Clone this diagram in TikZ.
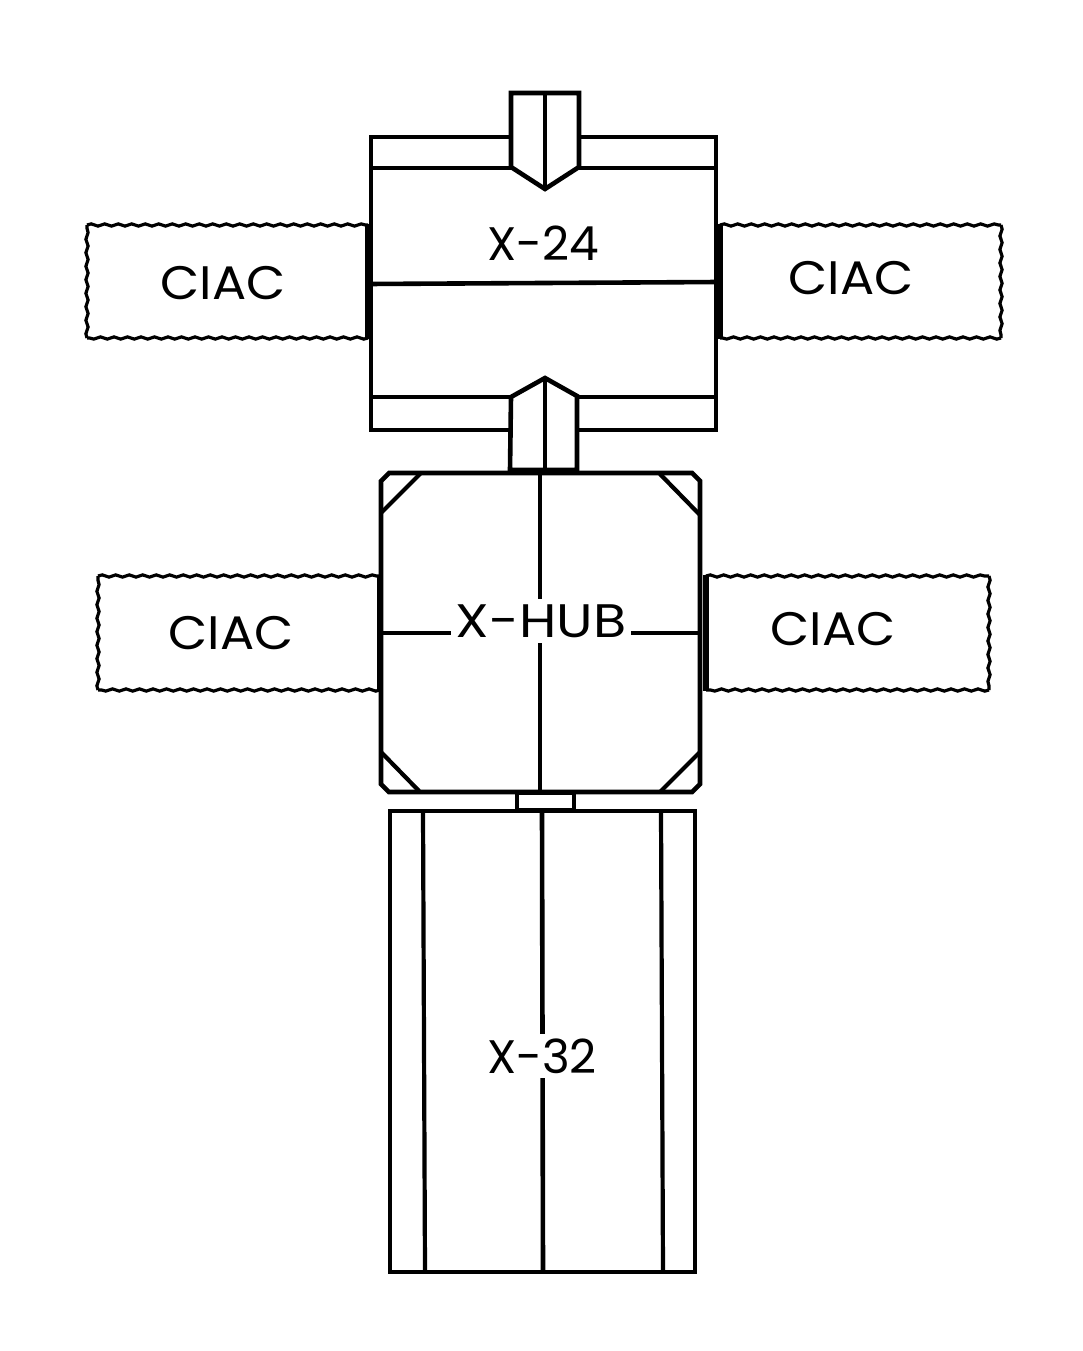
\documentclass[tikz,border=0pt]{standalone}
\usepackage{fontspec}
\setmainfont{Poppins}
\newfontfamily\panelfont[FakeStretch=1.08]{Poppins}
\newfontfamily\hubfont[FakeStretch=1.15]{Poppins}
\usetikzlibrary{decorations.pathmorphing}

\tikzset{
    moduleLine/.style={line width=4.6pt, line join=miter},
    thinLine/.style={line width=4.2pt},
    panelEdge/.style={line width=3.2pt, decorate, decoration={snake, segment length=13.5pt, amplitude=1.1pt}},
    panelBar/.style={line width=5.5pt},
    moduleText/.style={fill=white, inner sep=5pt, font=\fontsize{47}{50}\selectfont},
    panelText/.style={font=\panelfont\fontsize{47}{50}\selectfont}
}

\begin{document}
\begin{tikzpicture}[x=1pt, y=-1pt]
    \useasboundingbox (0,0) rectangle (1083,1351);

    % draw the upper module
    \draw[moduleLine] (371,137) rectangle (716,430);
    \draw[moduleLine] (371,168) -- (716,168);
    \draw[moduleLine] (371,397) -- (716,397);
    \draw[moduleLine] (368,284) -- (719,282);

    % upper docking port
    \filldraw[moduleLine, fill=white] (511,93) -- (579,93) -- (579,167) -- (545,189) -- (511,167) -- cycle;
    \draw[thinLine] (545,93) -- (545,189);

    % lower docking port
    \filldraw[moduleLine, fill=white] (510,470) -- (511,397) -- (545,378) -- (577,396) -- (577,470) -- cycle;
    \draw[moduleLine] (545,378) -- (545,470);

    % draw the hub
    \draw[moduleLine] (389,473) -- (692,473) -- (700,481) -- (700,784) -- (692,792) -- (389,792) -- (381,784) -- (381,481) -- cycle;
    \draw[thinLine] (381,513) -- (421,473);
    \draw[thinLine] (659,473) -- (700,515);
    \draw[thinLine] (381,752) -- (420,792);
    \draw[thinLine] (660,792) -- (700,752);
    \draw[moduleLine] (510,472) -- (577,472);
    \draw[thinLine] (540,473) -- (540,792);
    \draw[thinLine] (379,633) -- (702,633);

    % small adapter
    \draw[thinLine] (517,793) rectangle (574,810);

    % draw the lower module
    \draw[moduleLine] (390,811) rectangle (695,1272);
    \draw[thinLine] (423,811) -- (425,1272);
    \draw[thinLine] (661,811) -- (663,1272);
    \draw[moduleLine] (542,811) -- (543,1272);

    % wavy panels
    \foreach \xa/\ya/\xb/\yb in {87/225/368/338, 720/225/1001/338, 98/576/380/690, 706/576/989/690} {
        \draw[panelEdge] (\xa,\ya) -- (\xb,\ya);
        \draw[panelEdge] (\xb,\yb) -- (\xa,\yb);
        \draw[panelEdge] (\xa,\yb) -- (\xa,\ya);
        \draw[panelEdge] (\xb,\ya) -- (\xb,\yb);
    }

    % panel mounts
    \draw[panelBar] (368,224) -- (368,339);
    \draw[panelBar] (720,224) -- (720,339);
    \draw[panelBar] (380,575) -- (380,691);
    \draw[panelBar] (706,575) -- (706,691);

    % add text
    \node[moduleText] (upperLabel) at (543,243) {X-24};
    \node[moduleText, font=\hubfont\fontsize{47}{50}\selectfont] (hubLabel) at (541,621) {X-HUB};
    \node[moduleText] (lowerLabel) at (542,1056) {X-32};
    \node[panelText] (panelA) at (223,283) {CIAC};
    \node[panelText] (panelB) at (851,278) {CIAC};
    \node[panelText] (panelC) at (231,633) {CIAC};
    \node[panelText] (panelD) at (833,629) {CIAC};

\end{tikzpicture}
\end{document}
